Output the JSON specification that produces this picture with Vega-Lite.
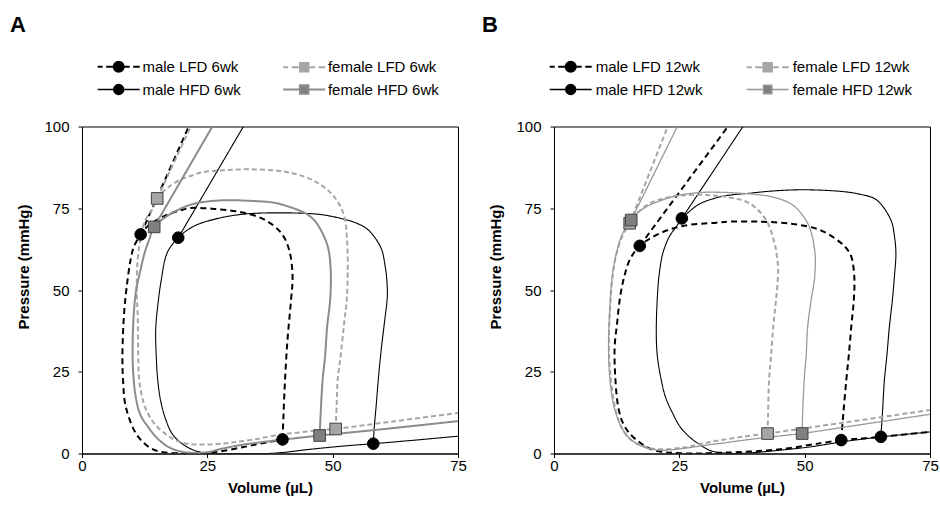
{
"$schema": "https://vega.github.io/schema/vega-lite/v6.json",
"padding": {"left": 9, "top": 13.5, "right": 0, "bottom": 0},
"spacing": 14,
"config": {
  "font": "Liberation Sans",
  "view": {"stroke": "black", "strokeWidth": 1},
  "axis": {"domainColor": "black", "tickColor": "black", "labelColor": "black", "titleColor": "black", "labelFont": "Liberation Sans", "titleFont": "Liberation Sans", "labelFontSize": 15, "titleFontSize": 15, "titleFontWeight": "bold", "grid": false, "tickSize": 4, "labelFlush": false},
  "title": {"font": "Liberation Sans", "fontSize": 22, "fontWeight": "bold", "color": "black", "anchor": "start", "frame": "group"}
},
"resolve": {"scale": {"color": "independent", "strokeDash": "independent", "strokeWidth": "independent", "shape": "independent", "fill": "independent", "stroke": "independent", "x": "independent", "y": "independent"}, "legend": {"shape": "independent"}},
"datasets": {
"lines": [
{"panel":"A","series":"male LFD 6wk","part":"loop","i":0,"v":40.0,"p":4.3},
{"panel":"A","series":"male LFD 6wk","part":"loop","i":1,"v":40.2,"p":12},
{"panel":"A","series":"male LFD 6wk","part":"loop","i":2,"v":40.5,"p":22.6},
{"panel":"A","series":"male LFD 6wk","part":"loop","i":3,"v":41.0,"p":35},
{"panel":"A","series":"male LFD 6wk","part":"loop","i":4,"v":41.7,"p":47},
{"panel":"A","series":"male LFD 6wk","part":"loop","i":5,"v":42.0,"p":54.2},
{"panel":"A","series":"male LFD 6wk","part":"loop","i":6,"v":41.3,"p":62.4},
{"panel":"A","series":"male LFD 6wk","part":"loop","i":7,"v":39.7,"p":67.5},
{"panel":"A","series":"male LFD 6wk","part":"loop","i":8,"v":36.3,"p":71.6},
{"panel":"A","series":"male LFD 6wk","part":"loop","i":9,"v":31.7,"p":73.8},
{"panel":"A","series":"male LFD 6wk","part":"loop","i":10,"v":26.3,"p":74.8},
{"panel":"A","series":"male LFD 6wk","part":"loop","i":11,"v":21.7,"p":75.1},
{"panel":"A","series":"male LFD 6wk","part":"loop","i":12,"v":19.7,"p":74.4},
{"panel":"A","series":"male LFD 6wk","part":"loop","i":13,"v":16.4,"p":72.6},
{"panel":"A","series":"male LFD 6wk","part":"loop","i":14,"v":13.1,"p":69.5},
{"panel":"A","series":"male LFD 6wk","part":"loop","i":15,"v":11.7,"p":67.0},
{"panel":"A","series":"male LFD 6wk","part":"loop","i":16,"v":10.3,"p":63},
{"panel":"A","series":"male LFD 6wk","part":"loop","i":17,"v":9.7,"p":59.3},
{"panel":"A","series":"male LFD 6wk","part":"loop","i":18,"v":9.0,"p":52},
{"panel":"A","series":"male LFD 6wk","part":"loop","i":19,"v":8.4,"p":43},
{"panel":"A","series":"male LFD 6wk","part":"loop","i":20,"v":8.06,"p":30},
{"panel":"A","series":"male LFD 6wk","part":"loop","i":21,"v":8.2,"p":22},
{"panel":"A","series":"male LFD 6wk","part":"loop","i":22,"v":8.7,"p":14.5},
{"panel":"A","series":"male LFD 6wk","part":"loop","i":23,"v":10.7,"p":6.3},
{"panel":"A","series":"male LFD 6wk","part":"loop","i":24,"v":12.8,"p":2.6},
{"panel":"A","series":"male LFD 6wk","part":"loop","i":25,"v":15,"p":0.8},
{"panel":"A","series":"male LFD 6wk","part":"loop","i":26,"v":19.7,"p":0},
{"panel":"A","series":"male LFD 6wk","part":"loop","i":27,"v":23,"p":0},
{"panel":"A","series":"male LFD 6wk","part":"loop","i":28,"v":27,"p":0.5},
{"panel":"A","series":"male LFD 6wk","part":"loop","i":29,"v":31.7,"p":1.8},
{"panel":"A","series":"male LFD 6wk","part":"loop","i":30,"v":35.5,"p":3},
{"panel":"A","series":"male LFD 6wk","part":"loop","i":31,"v":40.0,"p":4.3},
{"panel":"A","series":"male LFD 6wk","part":"espvr","i":0,"v":11.7,"p":67},
{"panel":"A","series":"male LFD 6wk","part":"espvr","i":1,"v":21.3,"p":100},
{"panel":"A","series":"male HFD 6wk","part":"loop","i":0,"v":58.1,"p":3.0},
{"panel":"A","series":"male HFD 6wk","part":"loop","i":1,"v":58.3,"p":8},
{"panel":"A","series":"male HFD 6wk","part":"loop","i":2,"v":58.7,"p":15},
{"panel":"A","series":"male HFD 6wk","part":"loop","i":3,"v":59.1,"p":22.6},
{"panel":"A","series":"male HFD 6wk","part":"loop","i":4,"v":59.7,"p":32},
{"panel":"A","series":"male HFD 6wk","part":"loop","i":5,"v":60.4,"p":41},
{"panel":"A","series":"male HFD 6wk","part":"loop","i":6,"v":60.9,"p":48},
{"panel":"A","series":"male HFD 6wk","part":"loop","i":7,"v":60.8,"p":53},
{"panel":"A","series":"male HFD 6wk","part":"loop","i":8,"v":60.5,"p":57},
{"panel":"A","series":"male HFD 6wk","part":"loop","i":9,"v":59.6,"p":63},
{"panel":"A","series":"male HFD 6wk","part":"loop","i":10,"v":57,"p":68.5},
{"panel":"A","series":"male HFD 6wk","part":"loop","i":11,"v":54.5,"p":70.6},
{"panel":"A","series":"male HFD 6wk","part":"loop","i":12,"v":51.6,"p":71.9},
{"panel":"A","series":"male HFD 6wk","part":"loop","i":13,"v":48,"p":73},
{"panel":"A","series":"male HFD 6wk","part":"loop","i":14,"v":45,"p":73.4},
{"panel":"A","series":"male HFD 6wk","part":"loop","i":15,"v":39.7,"p":73.6},
{"panel":"A","series":"male HFD 6wk","part":"loop","i":16,"v":33,"p":73.3},
{"panel":"A","series":"male HFD 6wk","part":"loop","i":17,"v":27.7,"p":72.1},
{"panel":"A","series":"male HFD 6wk","part":"loop","i":18,"v":23,"p":70},
{"panel":"A","series":"male HFD 6wk","part":"loop","i":19,"v":21,"p":68.3},
{"panel":"A","series":"male HFD 6wk","part":"loop","i":20,"v":19.2,"p":66.0},
{"panel":"A","series":"male HFD 6wk","part":"loop","i":21,"v":17,"p":61.4},
{"panel":"A","series":"male HFD 6wk","part":"loop","i":22,"v":15.8,"p":53},
{"panel":"A","series":"male HFD 6wk","part":"loop","i":23,"v":15.1,"p":45},
{"panel":"A","series":"male HFD 6wk","part":"loop","i":24,"v":14.7,"p":38},
{"panel":"A","series":"male HFD 6wk","part":"loop","i":25,"v":14.8,"p":30},
{"panel":"A","series":"male HFD 6wk","part":"loop","i":26,"v":15.1,"p":22.6},
{"panel":"A","series":"male HFD 6wk","part":"loop","i":27,"v":15.7,"p":16},
{"panel":"A","series":"male HFD 6wk","part":"loop","i":28,"v":16.7,"p":10.4},
{"panel":"A","series":"male HFD 6wk","part":"loop","i":29,"v":18,"p":6},
{"panel":"A","series":"male HFD 6wk","part":"loop","i":30,"v":19.7,"p":3.3},
{"panel":"A","series":"male HFD 6wk","part":"loop","i":31,"v":22,"p":1.2},
{"panel":"A","series":"male HFD 6wk","part":"loop","i":32,"v":24.4,"p":0.2},
{"panel":"A","series":"male HFD 6wk","part":"loop","i":33,"v":28,"p":0},
{"panel":"A","series":"male HFD 6wk","part":"loop","i":34,"v":33,"p":0},
{"panel":"A","series":"male HFD 6wk","part":"loop","i":35,"v":37,"p":0},
{"panel":"A","series":"male HFD 6wk","part":"loop","i":36,"v":40,"p":0.3},
{"panel":"A","series":"male HFD 6wk","part":"loop","i":37,"v":45,"p":1.2},
{"panel":"A","series":"male HFD 6wk","part":"loop","i":38,"v":51.6,"p":2.2},
{"panel":"A","series":"male HFD 6wk","part":"loop","i":39,"v":58.1,"p":3.0},
{"panel":"A","series":"male HFD 6wk","part":"espvr","i":0,"v":19.2,"p":66},
{"panel":"A","series":"male HFD 6wk","part":"espvr","i":1,"v":32.2,"p":100},
{"panel":"A","series":"male HFD 6wk","part":"edpvr","i":0,"v":58.1,"p":3.0},
{"panel":"A","series":"male HFD 6wk","part":"edpvr","i":1,"v":66.5,"p":4.1},
{"panel":"A","series":"male HFD 6wk","part":"edpvr","i":2,"v":75,"p":5.3},
{"panel":"A","series":"female LFD 6wk","part":"loop","i":0,"v":50.6,"p":7.5},
{"panel":"A","series":"female LFD 6wk","part":"loop","i":1,"v":50.8,"p":15},
{"panel":"A","series":"female LFD 6wk","part":"loop","i":2,"v":51.0,"p":22.6},
{"panel":"A","series":"female LFD 6wk","part":"loop","i":3,"v":51.6,"p":30},
{"panel":"A","series":"female LFD 6wk","part":"loop","i":4,"v":52.3,"p":40},
{"panel":"A","series":"female LFD 6wk","part":"loop","i":5,"v":52.8,"p":47},
{"panel":"A","series":"female LFD 6wk","part":"loop","i":6,"v":53,"p":55},
{"panel":"A","series":"female LFD 6wk","part":"loop","i":7,"v":52.9,"p":64.4},
{"panel":"A","series":"female LFD 6wk","part":"loop","i":8,"v":52.3,"p":72.6},
{"panel":"A","series":"female LFD 6wk","part":"loop","i":9,"v":51,"p":77},
{"panel":"A","series":"female LFD 6wk","part":"loop","i":10,"v":49.6,"p":79.7},
{"panel":"A","series":"female LFD 6wk","part":"loop","i":11,"v":47.5,"p":82.3},
{"panel":"A","series":"female LFD 6wk","part":"loop","i":12,"v":45,"p":84.3},
{"panel":"A","series":"female LFD 6wk","part":"loop","i":13,"v":42,"p":85.7},
{"panel":"A","series":"female LFD 6wk","part":"loop","i":14,"v":39,"p":86.5},
{"panel":"A","series":"female LFD 6wk","part":"loop","i":15,"v":33,"p":86.9},
{"panel":"A","series":"female LFD 6wk","part":"loop","i":16,"v":28,"p":86.6},
{"panel":"A","series":"female LFD 6wk","part":"loop","i":17,"v":24,"p":86},
{"panel":"A","series":"female LFD 6wk","part":"loop","i":18,"v":21.5,"p":84.8},
{"panel":"A","series":"female LFD 6wk","part":"loop","i":19,"v":19.7,"p":83.8},
{"panel":"A","series":"female LFD 6wk","part":"loop","i":20,"v":17,"p":81.2},
{"panel":"A","series":"female LFD 6wk","part":"loop","i":21,"v":15,"p":78},
{"panel":"A","series":"female LFD 6wk","part":"loop","i":22,"v":14,"p":74.6},
{"panel":"A","series":"female LFD 6wk","part":"loop","i":23,"v":12.7,"p":71.6},
{"panel":"A","series":"female LFD 6wk","part":"loop","i":24,"v":11.7,"p":66},
{"panel":"A","series":"female LFD 6wk","part":"loop","i":25,"v":11.1,"p":59},
{"panel":"A","series":"female LFD 6wk","part":"loop","i":26,"v":10.9,"p":50},
{"panel":"A","series":"female LFD 6wk","part":"loop","i":27,"v":11.1,"p":43},
{"panel":"A","series":"female LFD 6wk","part":"loop","i":28,"v":11.2,"p":32},
{"panel":"A","series":"female LFD 6wk","part":"loop","i":29,"v":11.4,"p":22.6},
{"panel":"A","series":"female LFD 6wk","part":"loop","i":30,"v":12.2,"p":16},
{"panel":"A","series":"female LFD 6wk","part":"loop","i":31,"v":13.1,"p":12.4},
{"panel":"A","series":"female LFD 6wk","part":"loop","i":32,"v":14.5,"p":9},
{"panel":"A","series":"female LFD 6wk","part":"loop","i":33,"v":16.4,"p":6.3},
{"panel":"A","series":"female LFD 6wk","part":"loop","i":34,"v":18.5,"p":4.2},
{"panel":"A","series":"female LFD 6wk","part":"loop","i":35,"v":21,"p":3},
{"panel":"A","series":"female LFD 6wk","part":"loop","i":36,"v":26.3,"p":2.8},
{"panel":"A","series":"female LFD 6wk","part":"loop","i":37,"v":30,"p":3.4},
{"panel":"A","series":"female LFD 6wk","part":"loop","i":38,"v":34.3,"p":4.3},
{"panel":"A","series":"female LFD 6wk","part":"loop","i":39,"v":39.7,"p":5.8},
{"panel":"A","series":"female LFD 6wk","part":"loop","i":40,"v":45,"p":6.7},
{"panel":"A","series":"female LFD 6wk","part":"loop","i":41,"v":50.6,"p":7.5},
{"panel":"A","series":"female LFD 6wk","part":"espvr","i":0,"v":15,"p":78},
{"panel":"A","series":"female LFD 6wk","part":"espvr","i":1,"v":21.7,"p":100},
{"panel":"A","series":"female LFD 6wk","part":"edpvr","i":0,"v":50.6,"p":7.5},
{"panel":"A","series":"female LFD 6wk","part":"edpvr","i":1,"v":62,"p":9.8},
{"panel":"A","series":"female LFD 6wk","part":"edpvr","i":2,"v":75,"p":12.4},
{"panel":"A","series":"female HFD 6wk","part":"loop","i":0,"v":47.4,"p":5.5},
{"panel":"A","series":"female HFD 6wk","part":"loop","i":1,"v":47.6,"p":12},
{"panel":"A","series":"female HFD 6wk","part":"loop","i":2,"v":48,"p":22.6},
{"panel":"A","series":"female HFD 6wk","part":"loop","i":3,"v":48.5,"p":30},
{"panel":"A","series":"female HFD 6wk","part":"loop","i":4,"v":48.9,"p":38.9},
{"panel":"A","series":"female HFD 6wk","part":"loop","i":5,"v":49.5,"p":47},
{"panel":"A","series":"female HFD 6wk","part":"loop","i":6,"v":49.6,"p":56.3},
{"panel":"A","series":"female HFD 6wk","part":"loop","i":7,"v":49,"p":63.4},
{"panel":"A","series":"female HFD 6wk","part":"loop","i":8,"v":47,"p":70},
{"panel":"A","series":"female HFD 6wk","part":"loop","i":9,"v":45.5,"p":72.5},
{"panel":"A","series":"female HFD 6wk","part":"loop","i":10,"v":43.7,"p":74.1},
{"panel":"A","series":"female HFD 6wk","part":"loop","i":11,"v":41,"p":75.6},
{"panel":"A","series":"female HFD 6wk","part":"loop","i":12,"v":38.3,"p":76.7},
{"panel":"A","series":"female HFD 6wk","part":"loop","i":13,"v":34.3,"p":77.2},
{"panel":"A","series":"female HFD 6wk","part":"loop","i":14,"v":27.7,"p":77.4},
{"panel":"A","series":"female HFD 6wk","part":"loop","i":15,"v":21.7,"p":76.1},
{"panel":"A","series":"female HFD 6wk","part":"loop","i":16,"v":17,"p":72.6},
{"panel":"A","series":"female HFD 6wk","part":"loop","i":17,"v":14.4,"p":69.3},
{"panel":"A","series":"female HFD 6wk","part":"loop","i":18,"v":13.3,"p":65},
{"panel":"A","series":"female HFD 6wk","part":"loop","i":19,"v":12.5,"p":61.4},
{"panel":"A","series":"female HFD 6wk","part":"loop","i":20,"v":11.5,"p":55},
{"panel":"A","series":"female HFD 6wk","part":"loop","i":21,"v":10.8,"p":50},
{"panel":"A","series":"female HFD 6wk","part":"loop","i":22,"v":10.3,"p":42},
{"panel":"A","series":"female HFD 6wk","part":"loop","i":23,"v":10.1,"p":32.8},
{"panel":"A","series":"female HFD 6wk","part":"loop","i":24,"v":10.2,"p":25},
{"panel":"A","series":"female HFD 6wk","part":"loop","i":25,"v":10.7,"p":17.5},
{"panel":"A","series":"female HFD 6wk","part":"loop","i":26,"v":11.6,"p":12},
{"panel":"A","series":"female HFD 6wk","part":"loop","i":27,"v":13.1,"p":8.3},
{"panel":"A","series":"female HFD 6wk","part":"loop","i":28,"v":15,"p":4.7},
{"panel":"A","series":"female HFD 6wk","part":"loop","i":29,"v":17,"p":2.2},
{"panel":"A","series":"female HFD 6wk","part":"loop","i":30,"v":19.2,"p":0.8},
{"panel":"A","series":"female HFD 6wk","part":"loop","i":31,"v":21.7,"p":0.2},
{"panel":"A","series":"female HFD 6wk","part":"loop","i":32,"v":25,"p":0.4},
{"panel":"A","series":"female HFD 6wk","part":"loop","i":33,"v":28,"p":1.5},
{"panel":"A","series":"female HFD 6wk","part":"loop","i":34,"v":31.7,"p":2.6},
{"panel":"A","series":"female HFD 6wk","part":"loop","i":35,"v":36,"p":3.5},
{"panel":"A","series":"female HFD 6wk","part":"loop","i":36,"v":41,"p":4.4},
{"panel":"A","series":"female HFD 6wk","part":"loop","i":37,"v":47.4,"p":5.5},
{"panel":"A","series":"female HFD 6wk","part":"espvr","i":0,"v":14.4,"p":69.3},
{"panel":"A","series":"female HFD 6wk","part":"espvr","i":1,"v":26,"p":100},
{"panel":"A","series":"female HFD 6wk","part":"edpvr","i":0,"v":47.4,"p":5.5},
{"panel":"A","series":"female HFD 6wk","part":"edpvr","i":1,"v":61,"p":7.6},
{"panel":"A","series":"female HFD 6wk","part":"edpvr","i":2,"v":75,"p":9.9},
{"panel":"B","series":"male LFD 12wk","part":"loop","i":0,"v":57.3,"p":4.1},
{"panel":"B","series":"male LFD 12wk","part":"loop","i":1,"v":57.7,"p":12},
{"panel":"B","series":"male LFD 12wk","part":"loop","i":2,"v":58.3,"p":22.4},
{"panel":"B","series":"male LFD 12wk","part":"loop","i":3,"v":58.8,"p":30},
{"panel":"B","series":"male LFD 12wk","part":"loop","i":4,"v":59.3,"p":38.8},
{"panel":"B","series":"male LFD 12wk","part":"loop","i":5,"v":59.8,"p":47},
{"panel":"B","series":"male LFD 12wk","part":"loop","i":6,"v":59.9,"p":54.1},
{"panel":"B","series":"male LFD 12wk","part":"loop","i":7,"v":59.3,"p":60.2},
{"panel":"B","series":"male LFD 12wk","part":"loop","i":8,"v":58.3,"p":62.8},
{"panel":"B","series":"male LFD 12wk","part":"loop","i":9,"v":56.9,"p":64.8},
{"panel":"B","series":"male LFD 12wk","part":"loop","i":10,"v":53,"p":68.4},
{"panel":"B","series":"male LFD 12wk","part":"loop","i":11,"v":47.6,"p":70.2},
{"panel":"B","series":"male LFD 12wk","part":"loop","i":12,"v":41,"p":70.9},
{"panel":"B","series":"male LFD 12wk","part":"loop","i":13,"v":35,"p":70.9},
{"panel":"B","series":"male LFD 12wk","part":"loop","i":14,"v":32.4,"p":70.6},
{"panel":"B","series":"male LFD 12wk","part":"loop","i":15,"v":25.7,"p":69.6},
{"panel":"B","series":"male LFD 12wk","part":"loop","i":16,"v":21.1,"p":67.3},
{"panel":"B","series":"male LFD 12wk","part":"loop","i":17,"v":17.1,"p":63.5},
{"panel":"B","series":"male LFD 12wk","part":"loop","i":18,"v":15.1,"p":59.2},
{"panel":"B","series":"male LFD 12wk","part":"loop","i":19,"v":14,"p":54},
{"panel":"B","series":"male LFD 12wk","part":"loop","i":20,"v":13.2,"p":48},
{"panel":"B","series":"male LFD 12wk","part":"loop","i":21,"v":12.6,"p":40},
{"panel":"B","series":"male LFD 12wk","part":"loop","i":22,"v":12.1,"p":32.6},
{"panel":"B","series":"male LFD 12wk","part":"loop","i":23,"v":12.2,"p":24},
{"panel":"B","series":"male LFD 12wk","part":"loop","i":24,"v":12.8,"p":14.3},
{"panel":"B","series":"male LFD 12wk","part":"loop","i":25,"v":13.7,"p":9.5},
{"panel":"B","series":"male LFD 12wk","part":"loop","i":26,"v":15.1,"p":6.1},
{"panel":"B","series":"male LFD 12wk","part":"loop","i":27,"v":17,"p":3.5},
{"panel":"B","series":"male LFD 12wk","part":"loop","i":28,"v":19.1,"p":1.5},
{"panel":"B","series":"male LFD 12wk","part":"loop","i":29,"v":21.5,"p":0.5},
{"panel":"B","series":"male LFD 12wk","part":"loop","i":30,"v":23.7,"p":0.2},
{"panel":"B","series":"male LFD 12wk","part":"loop","i":31,"v":28,"p":0},
{"panel":"B","series":"male LFD 12wk","part":"loop","i":32,"v":33,"p":0.2},
{"panel":"B","series":"male LFD 12wk","part":"loop","i":33,"v":39,"p":0.6},
{"panel":"B","series":"male LFD 12wk","part":"loop","i":34,"v":46.3,"p":1.5},
{"panel":"B","series":"male LFD 12wk","part":"loop","i":35,"v":52.9,"p":3.1},
{"panel":"B","series":"male LFD 12wk","part":"loop","i":36,"v":57.3,"p":4.1},
{"panel":"B","series":"male LFD 12wk","part":"espvr","i":0,"v":17.1,"p":63.5},
{"panel":"B","series":"male LFD 12wk","part":"espvr","i":1,"v":34.7,"p":100},
{"panel":"B","series":"male LFD 12wk","part":"edpvr","i":0,"v":57.3,"p":4.1},
{"panel":"B","series":"male LFD 12wk","part":"edpvr","i":1,"v":65.2,"p":5.1},
{"panel":"B","series":"male LFD 12wk","part":"edpvr","i":2,"v":75,"p":6.6},
{"panel":"B","series":"male HFD 12wk","part":"loop","i":0,"v":65.2,"p":5.1},
{"panel":"B","series":"male HFD 12wk","part":"loop","i":1,"v":65.5,"p":12},
{"panel":"B","series":"male HFD 12wk","part":"loop","i":2,"v":65.9,"p":22.4},
{"panel":"B","series":"male HFD 12wk","part":"loop","i":3,"v":66.4,"p":30},
{"panel":"B","series":"male HFD 12wk","part":"loop","i":4,"v":66.9,"p":38.8},
{"panel":"B","series":"male HFD 12wk","part":"loop","i":5,"v":67.5,"p":47},
{"panel":"B","series":"male HFD 12wk","part":"loop","i":6,"v":67.9,"p":54.1},
{"panel":"B","series":"male HFD 12wk","part":"loop","i":7,"v":68.2,"p":61.2},
{"panel":"B","series":"male HFD 12wk","part":"loop","i":8,"v":67.9,"p":66.5},
{"panel":"B","series":"male HFD 12wk","part":"loop","i":9,"v":67.2,"p":71.4},
{"panel":"B","series":"male HFD 12wk","part":"loop","i":10,"v":64.3,"p":77.6},
{"panel":"B","series":"male HFD 12wk","part":"loop","i":11,"v":61,"p":79.3},
{"panel":"B","series":"male HFD 12wk","part":"loop","i":12,"v":57.6,"p":80.1},
{"panel":"B","series":"male HFD 12wk","part":"loop","i":13,"v":52,"p":80.6},
{"panel":"B","series":"male HFD 12wk","part":"loop","i":14,"v":47.6,"p":80.6},
{"panel":"B","series":"male HFD 12wk","part":"loop","i":15,"v":43,"p":80.2},
{"panel":"B","series":"male HFD 12wk","part":"loop","i":16,"v":39,"p":79.6},
{"panel":"B","series":"male HFD 12wk","part":"loop","i":17,"v":35,"p":79},
{"panel":"B","series":"male HFD 12wk","part":"loop","i":18,"v":32.4,"p":78.2},
{"panel":"B","series":"male HFD 12wk","part":"loop","i":19,"v":29,"p":76.3},
{"panel":"B","series":"male HFD 12wk","part":"loop","i":20,"v":27,"p":74},
{"panel":"B","series":"male HFD 12wk","part":"loop","i":21,"v":25.5,"p":71.9},
{"panel":"B","series":"male HFD 12wk","part":"loop","i":22,"v":24.4,"p":69.4},
{"panel":"B","series":"male HFD 12wk","part":"loop","i":23,"v":23,"p":66.3},
{"panel":"B","series":"male HFD 12wk","part":"loop","i":24,"v":21.7,"p":61.2},
{"panel":"B","series":"male HFD 12wk","part":"loop","i":25,"v":21,"p":55},
{"panel":"B","series":"male HFD 12wk","part":"loop","i":26,"v":20.7,"p":50},
{"panel":"B","series":"male HFD 12wk","part":"loop","i":27,"v":20.4,"p":37.8},
{"panel":"B","series":"male HFD 12wk","part":"loop","i":28,"v":20.6,"p":30},
{"panel":"B","series":"male HFD 12wk","part":"loop","i":29,"v":21.4,"p":22.4},
{"panel":"B","series":"male HFD 12wk","part":"loop","i":30,"v":22.3,"p":17},
{"panel":"B","series":"male HFD 12wk","part":"loop","i":31,"v":23.7,"p":12.2},
{"panel":"B","series":"male HFD 12wk","part":"loop","i":32,"v":25,"p":8.5},
{"panel":"B","series":"male HFD 12wk","part":"loop","i":33,"v":27,"p":5.1},
{"panel":"B","series":"male HFD 12wk","part":"loop","i":34,"v":29,"p":2.8},
{"panel":"B","series":"male HFD 12wk","part":"loop","i":35,"v":31,"p":1},
{"panel":"B","series":"male HFD 12wk","part":"loop","i":36,"v":33,"p":0.3},
{"panel":"B","series":"male HFD 12wk","part":"loop","i":37,"v":35.7,"p":0},
{"panel":"B","series":"male HFD 12wk","part":"loop","i":38,"v":40,"p":0.3},
{"panel":"B","series":"male HFD 12wk","part":"loop","i":39,"v":45,"p":1},
{"panel":"B","series":"male HFD 12wk","part":"loop","i":40,"v":51,"p":2},
{"panel":"B","series":"male HFD 12wk","part":"loop","i":41,"v":57.6,"p":3.6},
{"panel":"B","series":"male HFD 12wk","part":"loop","i":42,"v":65.2,"p":5.1},
{"panel":"B","series":"male HFD 12wk","part":"espvr","i":0,"v":25.5,"p":71.9},
{"panel":"B","series":"male HFD 12wk","part":"espvr","i":1,"v":37.7,"p":100},
{"panel":"B","series":"male HFD 12wk","part":"edpvr","i":0,"v":65.2,"p":5.1},
{"panel":"B","series":"male HFD 12wk","part":"edpvr","i":1,"v":75,"p":6.6},
{"panel":"B","series":"female LFD 12wk","part":"loop","i":0,"v":42.6,"p":6.1},
{"panel":"B","series":"female LFD 12wk","part":"loop","i":1,"v":42.7,"p":12},
{"panel":"B","series":"female LFD 12wk","part":"loop","i":2,"v":42.9,"p":22.4},
{"panel":"B","series":"female LFD 12wk","part":"loop","i":3,"v":43.3,"p":30},
{"panel":"B","series":"female LFD 12wk","part":"loop","i":4,"v":43.8,"p":40},
{"panel":"B","series":"female LFD 12wk","part":"loop","i":5,"v":44.3,"p":47},
{"panel":"B","series":"female LFD 12wk","part":"loop","i":6,"v":44.7,"p":56.1},
{"panel":"B","series":"female LFD 12wk","part":"loop","i":7,"v":44.4,"p":61},
{"panel":"B","series":"female LFD 12wk","part":"loop","i":8,"v":44,"p":64.3},
{"panel":"B","series":"female LFD 12wk","part":"loop","i":9,"v":42.3,"p":71.4},
{"panel":"B","series":"female LFD 12wk","part":"loop","i":10,"v":39,"p":76.5},
{"panel":"B","series":"female LFD 12wk","part":"loop","i":11,"v":35,"p":78.3},
{"panel":"B","series":"female LFD 12wk","part":"loop","i":12,"v":31,"p":79},
{"panel":"B","series":"female LFD 12wk","part":"loop","i":13,"v":26,"p":79},
{"panel":"B","series":"female LFD 12wk","part":"loop","i":14,"v":22.4,"p":78.2},
{"panel":"B","series":"female LFD 12wk","part":"loop","i":15,"v":19.1,"p":76.5},
{"panel":"B","series":"female LFD 12wk","part":"loop","i":16,"v":16.6,"p":73.5},
{"panel":"B","series":"female LFD 12wk","part":"loop","i":17,"v":15.1,"p":70.4},
{"panel":"B","series":"female LFD 12wk","part":"loop","i":18,"v":13.5,"p":66},
{"panel":"B","series":"female LFD 12wk","part":"loop","i":19,"v":12.3,"p":60},
{"panel":"B","series":"female LFD 12wk","part":"loop","i":20,"v":11.6,"p":53},
{"panel":"B","series":"female LFD 12wk","part":"loop","i":21,"v":11.2,"p":45},
{"panel":"B","series":"female LFD 12wk","part":"loop","i":22,"v":10.95,"p":32.6},
{"panel":"B","series":"female LFD 12wk","part":"loop","i":23,"v":11.2,"p":25},
{"panel":"B","series":"female LFD 12wk","part":"loop","i":24,"v":11.8,"p":17.3},
{"panel":"B","series":"female LFD 12wk","part":"loop","i":25,"v":12.5,"p":12},
{"panel":"B","series":"female LFD 12wk","part":"loop","i":26,"v":13.4,"p":8.2},
{"panel":"B","series":"female LFD 12wk","part":"loop","i":27,"v":14.8,"p":5},
{"panel":"B","series":"female LFD 12wk","part":"loop","i":28,"v":16.4,"p":3.1},
{"panel":"B","series":"female LFD 12wk","part":"loop","i":29,"v":18.5,"p":1.9},
{"panel":"B","series":"female LFD 12wk","part":"loop","i":30,"v":21,"p":1.3},
{"panel":"B","series":"female LFD 12wk","part":"loop","i":31,"v":25.7,"p":1.8},
{"panel":"B","series":"female LFD 12wk","part":"loop","i":32,"v":29.5,"p":3},
{"panel":"B","series":"female LFD 12wk","part":"loop","i":33,"v":33.2,"p":4.1},
{"panel":"B","series":"female LFD 12wk","part":"loop","i":34,"v":38,"p":5.2},
{"panel":"B","series":"female LFD 12wk","part":"loop","i":35,"v":42.6,"p":6.1},
{"panel":"B","series":"female LFD 12wk","part":"espvr","i":0,"v":15.1,"p":70.4},
{"panel":"B","series":"female LFD 12wk","part":"espvr","i":1,"v":22.7,"p":100},
{"panel":"B","series":"female LFD 12wk","part":"edpvr","i":0,"v":42.6,"p":6.1},
{"panel":"B","series":"female LFD 12wk","part":"edpvr","i":1,"v":58,"p":9.5},
{"panel":"B","series":"female LFD 12wk","part":"edpvr","i":2,"v":75,"p":13.3},
{"panel":"B","series":"female HFD 12wk","part":"loop","i":0,"v":49.5,"p":6.1},
{"panel":"B","series":"female HFD 12wk","part":"loop","i":1,"v":49.6,"p":12},
{"panel":"B","series":"female HFD 12wk","part":"loop","i":2,"v":49.9,"p":22.4},
{"panel":"B","series":"female HFD 12wk","part":"loop","i":3,"v":50.3,"p":30},
{"panel":"B","series":"female HFD 12wk","part":"loop","i":4,"v":50.6,"p":38.8},
{"panel":"B","series":"female HFD 12wk","part":"loop","i":5,"v":51.3,"p":47},
{"panel":"B","series":"female HFD 12wk","part":"loop","i":6,"v":52,"p":54.1},
{"panel":"B","series":"female HFD 12wk","part":"loop","i":7,"v":52,"p":62.2},
{"panel":"B","series":"female HFD 12wk","part":"loop","i":8,"v":50.6,"p":70.4},
{"panel":"B","series":"female HFD 12wk","part":"loop","i":9,"v":47.6,"p":76},
{"panel":"B","series":"female HFD 12wk","part":"loop","i":10,"v":44,"p":78.3},
{"panel":"B","series":"female HFD 12wk","part":"loop","i":11,"v":41,"p":79.1},
{"panel":"B","series":"female HFD 12wk","part":"loop","i":12,"v":36,"p":79.7},
{"panel":"B","series":"female HFD 12wk","part":"loop","i":13,"v":32.4,"p":79.9},
{"panel":"B","series":"female HFD 12wk","part":"loop","i":14,"v":29,"p":79.8},
{"panel":"B","series":"female HFD 12wk","part":"loop","i":15,"v":24.4,"p":78.8},
{"panel":"B","series":"female HFD 12wk","part":"loop","i":16,"v":19.1,"p":76},
{"panel":"B","series":"female HFD 12wk","part":"loop","i":17,"v":17,"p":74},
{"panel":"B","series":"female HFD 12wk","part":"loop","i":18,"v":15.4,"p":71.4},
{"panel":"B","series":"female HFD 12wk","part":"loop","i":19,"v":13.6,"p":67},
{"panel":"B","series":"female HFD 12wk","part":"loop","i":20,"v":12.4,"p":61},
{"panel":"B","series":"female HFD 12wk","part":"loop","i":21,"v":11.6,"p":54},
{"panel":"B","series":"female HFD 12wk","part":"loop","i":22,"v":11.2,"p":46},
{"panel":"B","series":"female HFD 12wk","part":"loop","i":23,"v":10.9,"p":35},
{"panel":"B","series":"female HFD 12wk","part":"loop","i":24,"v":11,"p":26},
{"panel":"B","series":"female HFD 12wk","part":"loop","i":25,"v":11.5,"p":18},
{"panel":"B","series":"female HFD 12wk","part":"loop","i":26,"v":12.3,"p":12.5},
{"panel":"B","series":"female HFD 12wk","part":"loop","i":27,"v":13.3,"p":8.5},
{"panel":"B","series":"female HFD 12wk","part":"loop","i":28,"v":14.7,"p":5.2},
{"panel":"B","series":"female HFD 12wk","part":"loop","i":29,"v":16.4,"p":3.1},
{"panel":"B","series":"female HFD 12wk","part":"loop","i":30,"v":18.5,"p":1.7},
{"panel":"B","series":"female HFD 12wk","part":"loop","i":31,"v":21,"p":1},
{"panel":"B","series":"female HFD 12wk","part":"loop","i":32,"v":23.1,"p":1.1},
{"panel":"B","series":"female HFD 12wk","part":"loop","i":33,"v":27,"p":1.8},
{"panel":"B","series":"female HFD 12wk","part":"loop","i":34,"v":31,"p":2.7},
{"panel":"B","series":"female HFD 12wk","part":"loop","i":35,"v":33.2,"p":3.1},
{"panel":"B","series":"female HFD 12wk","part":"loop","i":36,"v":39,"p":4.3},
{"panel":"B","series":"female HFD 12wk","part":"loop","i":37,"v":44,"p":5.2},
{"panel":"B","series":"female HFD 12wk","part":"loop","i":38,"v":49.5,"p":6.1},
{"panel":"B","series":"female HFD 12wk","part":"espvr","i":0,"v":15.4,"p":71.4},
{"panel":"B","series":"female HFD 12wk","part":"espvr","i":1,"v":24.6,"p":100},
{"panel":"B","series":"female HFD 12wk","part":"edpvr","i":0,"v":49.5,"p":6.1},
{"panel":"B","series":"female HFD 12wk","part":"edpvr","i":1,"v":62,"p":9},
{"panel":"B","series":"female HFD 12wk","part":"edpvr","i":2,"v":75,"p":12}
],
"markers": [
{"panel":"A","series":"male LFD 6wk","v":11.7,"p":67},
{"panel":"A","series":"male LFD 6wk","v":40,"p":4.3},
{"panel":"A","series":"male HFD 6wk","v":19.2,"p":66},
{"panel":"A","series":"male HFD 6wk","v":58.1,"p":3.0},
{"panel":"A","series":"female LFD 6wk","v":15,"p":78},
{"panel":"A","series":"female LFD 6wk","v":50.6,"p":7.5},
{"panel":"A","series":"female HFD 6wk","v":14.4,"p":69.3},
{"panel":"A","series":"female HFD 6wk","v":47.4,"p":5.5},
{"panel":"B","series":"male LFD 12wk","v":17.1,"p":63.5},
{"panel":"B","series":"male LFD 12wk","v":57.3,"p":4.1},
{"panel":"B","series":"male HFD 12wk","v":25.5,"p":71.9},
{"panel":"B","series":"male HFD 12wk","v":65.2,"p":5.1},
{"panel":"B","series":"female LFD 12wk","v":15.1,"p":70.4},
{"panel":"B","series":"female LFD 12wk","v":42.6,"p":6.1},
{"panel":"B","series":"female HFD 12wk","v":15.4,"p":71.4},
{"panel":"B","series":"female HFD 12wk","v":49.5,"p":6.1}
]
},
"hconcat": [
{
  "width": 376, "height": 327,
  "title": {"text": "A", "dx": -72, "offset": 22},
  "resolve": {"scale": {"shape": "independent", "fill": "independent", "stroke": "independent", "strokeWidth": "independent"}, "legend": {"shape": "independent", "fill": "independent", "stroke": "independent", "strokeWidth": "independent"}},
  "layer": [
    {
      "data": {"name": "lines"},
      "transform": [{"filter": "datum.panel === 'A'"}],
      "mark": {"type": "line", "interpolate": "catmull-rom", "clip": true},
      "encoding": {
        "x": {"field": "v", "type": "quantitative", "scale": {"domain": [0, 75], "nice": false}, "axis": {"values": [0, 25, 50, 75], "labelPadding": 1, "titlePadding": 7}, "title": "Volume (µL)"},
        "y": {"field": "p", "type": "quantitative", "scale": {"domain": [0, 100], "nice": false}, "axis": {"values": [0, 25, 50, 75, 100], "labelPadding": 9, "titleX": -59, "titleY": 140, "titleAlign": "center", "titleBaseline": "middle"}, "title": "Pressure (mmHg)"},
        "color": {"field": "series", "type": "nominal", "scale": {"domain": ["male LFD 6wk", "male HFD 6wk", "female LFD 6wk", "female HFD 6wk"], "range": ["black", "black", "#a6a6a6", "#8c8c8c"]}, "legend": null},
        "strokeDash": {"field": "series", "type": "nominal", "scale": {"domain": ["male LFD 6wk", "male HFD 6wk", "female LFD 6wk", "female HFD 6wk"], "range": [[6, 4], [1, 0], [5, 3], [1, 0]]}, "legend": null},
        "strokeWidth": {"field": "series", "type": "nominal", "scale": {"type": "ordinal", "domain": ["male LFD 6wk", "male HFD 6wk", "female LFD 6wk", "female HFD 6wk"], "range": [2, 1.1, 2, 2]}, "legend": null},
        "detail": {"field": "part", "type": "nominal"},
        "order": {"field": "i", "type": "quantitative"}
      }
    },
    {
      "data": {"name": "markers"},
      "transform": [{"filter": "datum.panel === 'A'"}],
      "mark": {"type": "point", "filled": true, "size": 135, "opacity": 1, "strokeWidth": 1},
      "encoding": {
        "x": {"field": "v", "type": "quantitative"},
        "y": {"field": "p", "type": "quantitative"},
        "shape": {"field": "series", "type": "nominal", "scale": {"domain": ["male LFD 6wk", "male HFD 6wk", "female LFD 6wk", "female HFD 6wk"], "range": ["circle", "circle", "square", "square"]}, "legend": null},
        "fill": {"field": "series", "type": "nominal", "scale": {"domain": ["male LFD 6wk", "male HFD 6wk", "female LFD 6wk", "female HFD 6wk"], "range": ["black", "black", "#a6a6a6", "#808080"]}, "legend": null},
        "stroke": {"field": "series", "type": "nominal", "scale": {"domain": ["male LFD 6wk", "male HFD 6wk", "female LFD 6wk", "female HFD 6wk"], "range": ["black", "black", "#404040", "#404040"]}, "legend": null}
      }
    },
    {
      "data": {"name": "markers"},
      "transform": [{"filter": "datum.panel === 'none'"}],
      "mark": {"type": "point", "filled": true, "size": 100, "opacity": 1},
      "encoding": {
        "x": {"field": "v", "type": "quantitative"},
        "y": {"field": "p", "type": "quantitative"},
        "shape": {"field": "series", "type": "nominal",
          "scale": {"domain": ["male LFD 6wk", "male HFD 6wk", "female LFD 6wk", "female HFD 6wk"], "range": ["M-4.2,0H-3.2M-2.5,0H-1.1M1.1,0H2.2M2.9,0H4.2M-1,0A1,1,0,1,1,1,0A1,1,0,1,1,-1,0Z", "M-4.2,0H-1M1,0H4.2M-1,0A1,1,0,1,1,1,0A1,1,0,1,1,-1,0Z", "M-4.2,0H-3.2M-2.5,0H-1.1M1.1,0H2.2M2.9,0H4.2M-0.85,-0.85H0.85V0.85H-0.85Z", "M-4.2,0H-0.85M0.85,0H4.2M-0.85,-0.85H0.85V0.85H-0.85Z"]},
          "legend": {"title": null, "orient": "none", "legendX": 15.7, "legendY": -67.5, "columns": 2, "columnPadding": 37.5, "rowPadding": 5, "padding": 0, "symbolSize": 100, "symbolOffset": 13.5, "labelOffset": 16.2, "labelFont": "Liberation Sans", "labelFontSize": 15, "labelColor": "black", "labelLimit": 300, "symbolOpacity": 1}},
        "fill": {"field": "series", "type": "nominal", "scale": {"domain": ["male LFD 6wk", "male HFD 6wk", "female LFD 6wk", "female HFD 6wk"], "range": ["black", "black", "#a6a6a6", "#808080"]}},
        "stroke": {"field": "series", "type": "nominal", "scale": {"domain": ["male LFD 6wk", "male HFD 6wk", "female LFD 6wk", "female HFD 6wk"], "range": ["black", "black", "#a6a6a6", "#8c8c8c"]}},
        "strokeWidth": {"field": "series", "type": "nominal", "scale": {"type": "ordinal", "domain": ["male LFD 6wk", "male HFD 6wk", "female LFD 6wk", "female HFD 6wk"], "range": [2, 1.3, 2, 2]}}
      }
    }
  ]
},
{
  "width": 376, "height": 327,
  "title": {"text": "B", "dx": -72, "offset": 22},
  "resolve": {"scale": {"shape": "independent", "fill": "independent", "stroke": "independent", "strokeWidth": "independent"}, "legend": {"shape": "independent", "fill": "independent", "stroke": "independent", "strokeWidth": "independent"}},
  "layer": [
    {
      "data": {"name": "lines"},
      "transform": [{"filter": "datum.panel === 'B'"}],
      "mark": {"type": "line", "interpolate": "catmull-rom", "clip": true},
      "encoding": {
        "x": {"field": "v", "type": "quantitative", "scale": {"domain": [0, 75], "nice": false}, "axis": {"values": [0, 25, 50, 75], "labelPadding": 1, "titlePadding": 7}, "title": "Volume (µL)"},
        "y": {"field": "p", "type": "quantitative", "scale": {"domain": [0, 100], "nice": false}, "axis": {"values": [0, 25, 50, 75, 100], "labelPadding": 9, "titleX": -59, "titleY": 140, "titleAlign": "center", "titleBaseline": "middle"}, "title": "Pressure (mmHg)"},
        "color": {"field": "series", "type": "nominal", "scale": {"domain": ["male LFD 12wk", "male HFD 12wk", "female LFD 12wk", "female HFD 12wk"], "range": ["black", "black", "#a6a6a6", "#999999"]}, "legend": null},
        "strokeDash": {"field": "series", "type": "nominal", "scale": {"domain": ["male LFD 12wk", "male HFD 12wk", "female LFD 12wk", "female HFD 12wk"], "range": [[6, 4], [1, 0], [5, 3], [1, 0]]}, "legend": null},
        "strokeWidth": {"field": "series", "type": "nominal", "scale": {"type": "ordinal", "domain": ["male LFD 12wk", "male HFD 12wk", "female LFD 12wk", "female HFD 12wk"], "range": [2, 1.1, 2, 1.3]}, "legend": null},
        "detail": {"field": "part", "type": "nominal"},
        "order": {"field": "i", "type": "quantitative"}
      }
    },
    {
      "data": {"name": "markers"},
      "transform": [{"filter": "datum.panel === 'B'"}],
      "mark": {"type": "point", "filled": true, "size": 135, "opacity": 1, "strokeWidth": 1},
      "encoding": {
        "x": {"field": "v", "type": "quantitative"},
        "y": {"field": "p", "type": "quantitative"},
        "shape": {"field": "series", "type": "nominal", "scale": {"domain": ["male LFD 12wk", "male HFD 12wk", "female LFD 12wk", "female HFD 12wk"], "range": ["circle", "circle", "square", "square"]}, "legend": null},
        "fill": {"field": "series", "type": "nominal", "scale": {"domain": ["male LFD 12wk", "male HFD 12wk", "female LFD 12wk", "female HFD 12wk"], "range": ["black", "black", "#a6a6a6", "#808080"]}, "legend": null},
        "stroke": {"field": "series", "type": "nominal", "scale": {"domain": ["male LFD 12wk", "male HFD 12wk", "female LFD 12wk", "female HFD 12wk"], "range": ["black", "black", "#404040", "#404040"]}, "legend": null}
      }
    },
    {
      "data": {"name": "markers"},
      "transform": [{"filter": "datum.panel === 'none'"}],
      "mark": {"type": "point", "filled": true, "size": 100, "opacity": 1},
      "encoding": {
        "x": {"field": "v", "type": "quantitative"},
        "y": {"field": "p", "type": "quantitative"},
        "shape": {"field": "series", "type": "nominal",
          "scale": {"domain": ["male LFD 12wk", "male HFD 12wk", "female LFD 12wk", "female HFD 12wk"], "range": ["M-4.2,0H-3.2M-2.5,0H-1.1M1.1,0H2.2M2.9,0H4.2M-1,0A1,1,0,1,1,1,0A1,1,0,1,1,-1,0Z", "M-4.2,0H-1M1,0H4.2M-1,0A1,1,0,1,1,1,0A1,1,0,1,1,-1,0Z", "M-4.2,0H-3.2M-2.5,0H-1.1M1.1,0H2.2M2.9,0H4.2M-0.85,-0.85H0.85V0.85H-0.85Z", "M-4.2,0H-0.85M0.85,0H4.2M-0.85,-0.85H0.85V0.85H-0.85Z"]},
          "legend": {"title": null, "orient": "none", "legendX": -4.3, "legendY": -67.5, "columns": 2, "columnPadding": 40, "rowPadding": 5, "padding": 0, "symbolSize": 100, "symbolOffset": 13.5, "labelOffset": 17.5, "labelFont": "Liberation Sans", "labelFontSize": 15, "labelColor": "black", "labelLimit": 300, "symbolOpacity": 1}},
        "fill": {"field": "series", "type": "nominal", "scale": {"domain": ["male LFD 12wk", "male HFD 12wk", "female LFD 12wk", "female HFD 12wk"], "range": ["black", "black", "#a6a6a6", "#808080"]}},
        "stroke": {"field": "series", "type": "nominal", "scale": {"domain": ["male LFD 12wk", "male HFD 12wk", "female LFD 12wk", "female HFD 12wk"], "range": ["black", "black", "#a6a6a6", "#999999"]}},
        "strokeWidth": {"field": "series", "type": "nominal", "scale": {"type": "ordinal", "domain": ["male LFD 12wk", "male HFD 12wk", "female LFD 12wk", "female HFD 12wk"], "range": [2, 1.3, 2, 1.3]}}
      }
    }
  ]
}
]
}
